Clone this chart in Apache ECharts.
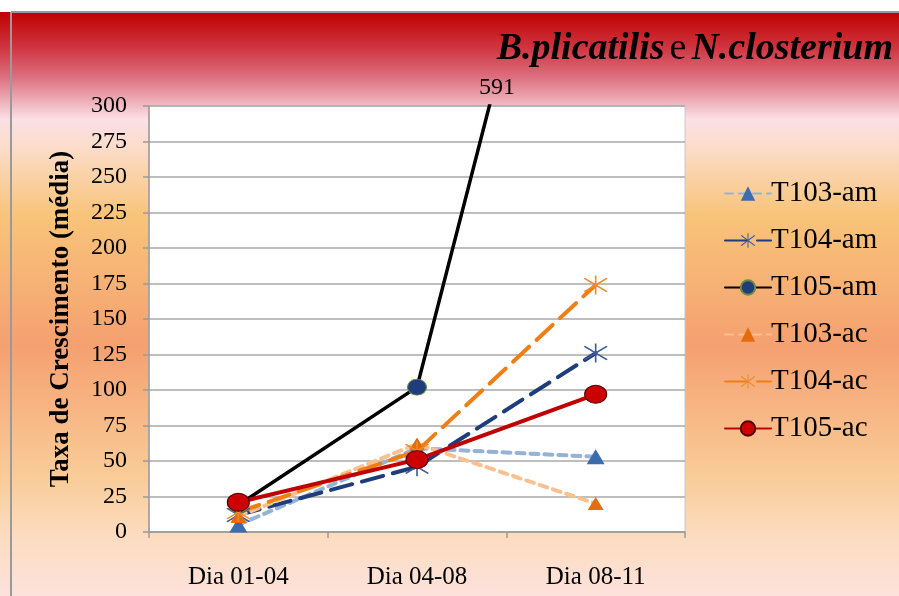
<!DOCTYPE html>
<html>
<head>
<meta charset="utf-8">
<script src="https://cdn.jsdelivr.net/npm/echarts@6/dist/echarts.min.js"></script>
<style>
html,body{margin:0;padding:0;background:#fff;}
#chart{width:899px;height:596px;}
</style>
</head>
<body>
<div id="chart"></div>
<script>
const categories = ['Dia 01-04', 'Dia 04-08', 'Dia 08-11'];
const seriesNames = ['T103-am', 'T104-am', 'T105-am', 'T103-ac', 'T104-ac', 'T105-ac'];
const t103am = [5, 59, 53];
const t104am = [12, 46, 126];
const t105am = [19, 102, 591];
const t103ac = [11, 62, 20];
const t104ac = [14, 57, 174];
const t105ac = [21, 51, 97];
const yTicks = [0, 25, 50, 75, 100, 125, 150, 175, 200, 225, 250, 275, 300];
const offChartLabel = '591';

const FONT = '"Liberation Serif", "Times New Roman", serif';
const ASTERISK = 'path://M9.4,0 L10.6,0 L10.6,20 L9.4,20 Z M1.2,3.4 L2.2,2.4 L18.8,16.6 L17.8,17.6 Z M17.8,2.4 L18.8,3.4 L2.2,17.6 L1.2,16.6 Z';

const chart = echarts.init(document.getElementById('chart'), null, {renderer: 'canvas'});

function mkSeries(name, data, lineColor, width, dash, symbol, symSize, fill, border, borderW) {
  return {
    name: name,
    type: 'line',
    data: data,
    symbol: symbol,
    symbolSize: symSize,
    showAllSymbol: true,
    clip: true,
    lineStyle: {color: lineColor, width: width, type: dash, cap: 'round'},
    itemStyle: {color: fill, borderColor: border, borderWidth: borderW},
    emphasis: {disabled: true},
    animation: false
  };
}

const option = {
  animation: false,
  backgroundColor: new echarts.graphic.LinearGradient(0, 0, 0, 1, [
    {offset: 0.02, color: '#c00000'},
    {offset: 0.08, color: '#cf3540'},
    {offset: 0.13, color: '#dd7080'},
    {offset: 0.175, color: '#f0b8c0'},
    {offset: 0.2, color: '#fbe0e6'},
    {offset: 0.25, color: '#fcdcc8'},
    {offset: 0.36, color: '#f8c47a'},
    {offset: 0.58, color: '#f5a070'},
    {offset: 0.8, color: '#f9cc98'},
    {offset: 0.9, color: '#fcdcc0'},
    {offset: 1, color: '#fde2dc'}
  ]),
  title: {
    text: '{b|B.plicatilis} {n|e} {b|N.closterium}',
    right: 1,
    top: 25,
    textStyle: {
      rich: {
        b: {fontFamily: FONT, fontSize: 38, fontWeight: 'bold', fontStyle: 'italic', color: '#000'},
        n: {fontFamily: FONT, fontSize: 38, fontWeight: 'normal', color: '#000'}
      }
    }
  },
  graphic: [
    {type: 'rect', shape: {x: 0, y: 0, width: 899, height: 12}, style: {fill: '#ffffff'}, silent: true},
    {type: 'line', shape: {x1: 11, y1: 12, x2: 899, y2: 12}, style: {stroke: '#9a9a9a', lineWidth: 2}, silent: true},
    {type: 'line', shape: {x1: 11, y1: 12, x2: 11, y2: 596}, style: {stroke: '#9a9a9a', lineWidth: 2}, silent: true},
    {type: 'text', x: 497, y: 88, style: {text: offChartLabel, font: '24px ' + FONT, fill: '#000', align: 'center', verticalAlign: 'middle'}, silent: true}
  ],
  legend: {
    orient: 'vertical',
    left: 719,
    top: 174,
    itemWidth: 46,
    itemHeight: 18,
    itemGap: 18,
    data: seriesNames,
    textStyle: {fontFamily: FONT, fontSize: 29, color: '#000', lineHeight: 29, padding: [0, 0, 0, -5]},
    selectedMode: false
  },
  grid: {
    left: 149, right: 214, top: 106, bottom: 64,
    show: true, backgroundColor: '#ffffff', borderColor: '#c8c8c8', borderWidth: 1
  },
  xAxis: {
    type: 'category',
    data: categories,
    boundaryGap: true,
    axisLine: {lineStyle: {color: '#9a9a9a', width: 1.5}},
    axisTick: {show: true, length: 6, inside: false, lineStyle: {color: '#9a9a9a', width: 1.5}},
    axisLabel: {fontFamily: FONT, fontSize: 25, color: '#000', margin: 33},
    splitLine: {show: false}
  },
  yAxis: {
    type: 'value',
    min: 0,
    max: 300,
    interval: 25,
    axisLine: {show: true, lineStyle: {color: '#9a9a9a', width: 1.5}},
    axisTick: {show: true, length: 6, inside: false, lineStyle: {color: '#9a9a9a', width: 1.5}},
    axisLabel: {fontFamily: FONT, fontSize: 24, color: '#000', margin: 22,
      formatter: function (v) { return yTicks.indexOf(v) >= 0 ? String(v) : ''; }},
    splitLine: {show: true, lineStyle: {color: '#a8a8a8', width: 1.5}},
    name: 'Taxa de Crescimento (média)',
    nameLocation: 'middle',
    nameGap: 74,
    nameRotate: 90,
    nameTextStyle: {fontFamily: FONT, fontSize: 27, fontWeight: 'bold', color: '#000'}
  },
  series: [
    mkSeries('T103-am', t103am, '#95b3d7', 4, [8, 6], 'triangle', [18, 15], '#3b6cb0', '#3b6cb0', 0),
    mkSeries('T104-am', t104am, '#1f3d7a', 4, [22, 10], ASTERISK, [24, 19], '#3d5a99', '#3d5a99', 0),
    mkSeries('T105-am', t105am, '#000000', 3.5, 'solid', 'circle', [19, 16], '#1f3d7a', '#6a8a40', 1),
    mkSeries('T103-ac', t103ac, '#fac08f', 4, [8, 6], 'triangle', [16, 13], '#e46c0a', '#e46c0a', 0),
    mkSeries('T104-ac', t104ac, '#ee7f15', 4, [22, 10], ASTERISK, [24, 19], '#f08a2a', '#f08a2a', 0),
    mkSeries('T105-ac', t105ac, '#c00000', 4, 'solid', 'circle', [22, 18], '#cc0000', '#500000', 1)
  ]
};

chart.setOption(option);
</script>
</body>
</html>
